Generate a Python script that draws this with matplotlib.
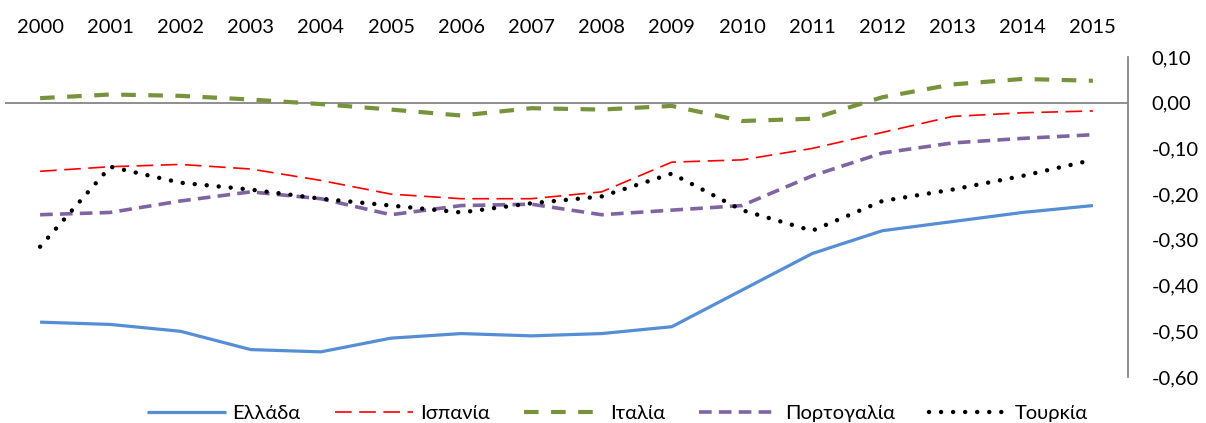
import matplotlib
matplotlib.use("Agg")
import matplotlib.pyplot as plt
from matplotlib.ticker import FuncFormatter

years = list(range(2000, 2016))
greece = [-0.48, -0.485, -0.50, -0.54, -0.545, -0.515, -0.505, -0.51, -0.505, -0.49,
          -0.41, -0.33, -0.28, -0.26, -0.24, -0.225]
spain = [-0.15, -0.14, -0.135, -0.145, -0.17, -0.20, -0.21, -0.21, -0.195, -0.13,
         -0.125, -0.10, -0.065, -0.03, -0.022, -0.018]
italy = [0.01, 0.018, 0.015, 0.007, -0.003, -0.015, -0.028, -0.012, -0.015, -0.007,
         -0.04, -0.035, 0.012, 0.04, 0.052, 0.048]
portugal = [-0.245, -0.24, -0.215, -0.195, -0.21, -0.245, -0.225, -0.222, -0.245, -0.235,
            -0.225, -0.16, -0.11, -0.088, -0.078, -0.07]
turkey = [-0.315, -0.14, -0.175, -0.19, -0.21, -0.225, -0.24, -0.22, -0.205, -0.155,
          -0.235, -0.28, -0.215, -0.19, -0.16, -0.125]
labels = ["Ελλάδα", "Ισπανία", "Ιταλία", "Πορτογαλία", "Τουρκία"]
yticks = [0.10, 0.0, -0.10, -0.20, -0.30, -0.40, -0.50, -0.60]

plt.rcParams['font.family'] = ['Lato', 'DejaVu Sans']

fig = plt.figure(figsize=(12.06, 4.23), dpi=100)
ax = fig.add_axes([5/1206, 1-377/423, (1128-5)/1206, (377-57)/423])

ax.plot(years, greece, color="#558ED5", lw=2.3, label=labels[0], solid_capstyle='butt')
ax.plot(years, spain, color="#FF0000", lw=1.2, dashes=(10, 4.5), label=labels[1])
ax.plot(years, italy, color="#77933C", lw=3.0, dashes=(3.5, 3.0), label=labels[2])
ax.plot(years, portugal, color="#8064A2", lw=2.6, dashes=(3.5, 2.0), label=labels[3])
ax.plot(years, turkey, color="black", lw=3.2, linestyle=(0, (0.01, 2.7)),
        dash_capstyle='round', label=labels[4])

ax.axhline(0, color="#868686", lw=1.3, zorder=0)
ax.set_xlim(1999.5, 2015.5)
ax.set_ylim(-0.60, 0.10)

for s in ["top", "left", "bottom"]:
    ax.spines[s].set_visible(False)
ax.spines["right"].set_color("#868686")
ax.spines["right"].set_linewidth(1.3)

ax.yaxis.tick_right()
ax.set_yticks(yticks)
ax.yaxis.set_major_formatter(FuncFormatter(lambda v, p: f"{v:.2f}".replace(".", ",").replace("-0,00", "0,00")))
ax.tick_params(axis="y", length=0, pad=17, labelsize=14.5)

ax.xaxis.tick_top()
ax.set_xticks(years)
ax.set_xticklabels([str(y) for y in years])
ax.tick_params(axis="x", length=0, pad=15, labelsize=14.5)

leg = fig.legend(loc="center", bbox_to_anchor=(0.512, 1-413/423), ncol=5, frameon=False,
                 fontsize=14.5, handlelength=3.9, columnspacing=1.7, handletextpad=0.35,
                 borderaxespad=0, borderpad=0)

fig.savefig("out.png", dpi=100)
